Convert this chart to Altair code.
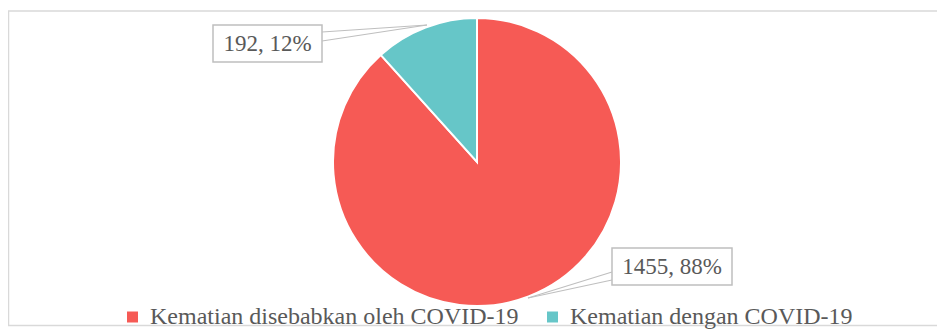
import altair as alt
import pandas as pd

categories = ["Kematian disebabkan oleh COVID-19", "Kematian dengan COVID-19"]
values = [1455, 192]
percents = [88, 12]
colors = ["#F65A55", "#66C6C8"]

df = pd.DataFrame({
    "category": categories,
    "value": values,
    "idx": list(range(len(values))),
    "label": [f"{v}, {p}%" for v, p in zip(values, percents)],
})

one = pd.DataFrame({"a": [0]})
grey = "#595959"
line_grey = "#BFBFBF"
serif = "Times New Roman, Liberation Serif, serif"

cx, cy, r = 469, 154, 144

border = alt.Chart(one).mark_rect(fill=None, stroke="#D9D9D9", strokeWidth=1.5).encode(
    x=alt.value(0.5), x2=alt.value(945), y=alt.value(3), y2=alt.value(317.5)
)

pie = alt.Chart(df).mark_arc(outerRadius=r, stroke="white", strokeWidth=2).encode(
    theta=alt.Theta("value:Q", stack=True),
    color=alt.Color(
        "category:N",
        scale=alt.Scale(domain=categories, range=colors),
        sort=categories,
        legend=alt.Legend(
            title=None,
            orient="none",
            legendX=112.5,
            legendY=297,
            padding=0,
            direction="horizontal",
            symbolType="square",
            symbolSize=121,
            symbolStrokeWidth=0,
            labelFont=serif,
            labelFontSize=24,
            labelColor=grey,
            labelOffset=5.5,
            columnPadding=21,
            labelLimit=600,
        ),
    ),
    order=alt.Order("idx:Q"),
    x=alt.value(cx),
    y=alt.value(cy),
)

def leader(x1, y1, x2, y2):
    return alt.Chart(one).mark_rule(color=line_grey, strokeWidth=1.2).encode(
        x=alt.value(x1), y=alt.value(y1), x2=alt.value(x2), y2=alt.value(y2)
    )

def box(x1, y1, x2, y2):
    return alt.Chart(one).mark_rect(fill="white", stroke=line_grey, strokeWidth=1.5).encode(
        x=alt.value(x1), x2=alt.value(x2), y=alt.value(y1), y2=alt.value(y2)
    )

lab_small = alt.Chart(df).transform_filter(alt.datum.idx == 1).mark_text(
    font=serif, fontSize=23, color=grey, align="center", baseline="middle"
).encode(text="label:N", x=alt.value(259.5), y=alt.value(36))

lab_big = alt.Chart(df).transform_filter(alt.datum.idx == 0).mark_text(
    font=serif, fontSize=23, color=grey, align="center", baseline="middle"
).encode(text="label:N", x=alt.value(664), y=alt.value(259))

chart = alt.layer(
    border,
    pie,
    leader(314, 24, 419, 17),
    leader(314, 33, 419, 17),
    leader(604, 264, 520, 290),
    leader(604, 272, 520, 290),
    box(205, 17, 314, 54),
    box(604, 240, 724, 277),
    lab_small,
    lab_big,
).properties(
    width=929, height=321, padding=0,
    autosize=alt.AutoSizeParams(type="none"),
).configure_view(stroke=None)

chart.save("out.html", embed_options={"renderer": "svg", "actions": False})
